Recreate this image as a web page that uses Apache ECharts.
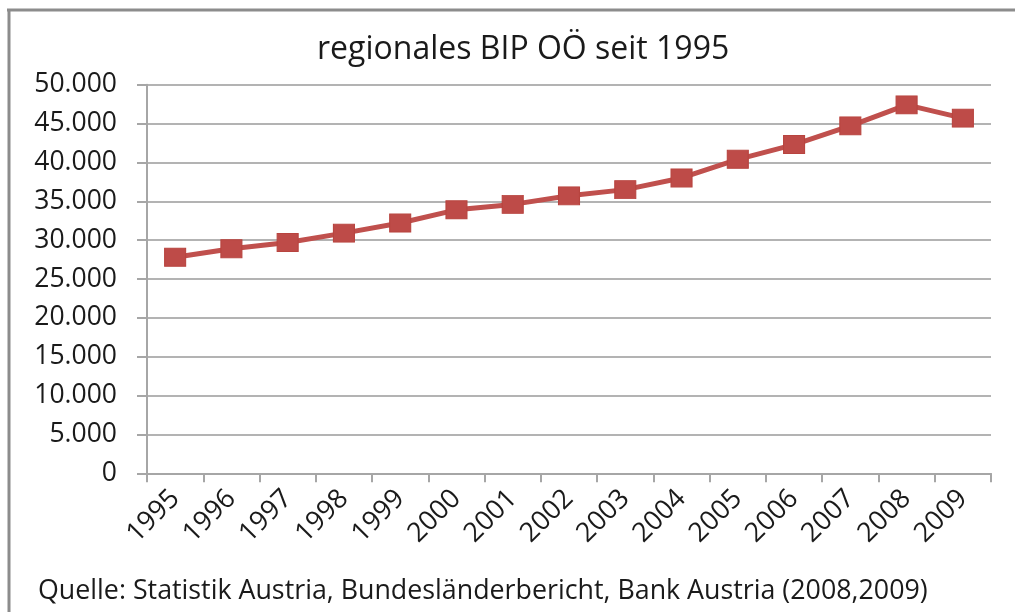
<!DOCTYPE html>
<html>
<head>
<meta charset="utf-8">
<script src="https://cdn.jsdelivr.net/npm/echarts@6/dist/echarts.min.js"></script>
<style>
html,body{margin:0;padding:0;background:#fff;}
#chart{width:1015px;height:612px;}
</style>
</head>
<body>
<div id="chart"></div>
<script>
const years = ['1995','1996','1997','1998','1999','2000','2001','2002','2003','2004','2005','2006','2007','2008','2009'];
const bipValues = [27800, 28900, 29700, 30900, 32200, 33900, 34600, 35700, 36500, 38000, 40400, 42300, 44700, 47400, 45700];
const yTicks = { min: 0, max: 50000, interval: 5000 };
const titleText = 'regionales BIP OÖ seit 1995';
const sourceText = 'Quelle: Statistik Austria, Bundesländerbericht, Bank Austria (2008,2009)';

const FONT = 'Open Sans';
const chart = echarts.init(document.getElementById('chart'), null, {renderer: 'canvas'});
chart.setOption({
  animation: false,
  backgroundColor: '#ffffff',
  title: [
    { text: titleText, left: 312, top: 29,
      textStyle: { fontFamily: FONT, fontSize: 32, fontWeight: 'normal', color: '#1a1a1a' } },
    { text: sourceText, left: 33, top: 573,
      textStyle: { fontFamily: FONT, fontSize: 26.8, fontWeight: 'normal', color: '#1a1a1a' } }
  ],
  grid: { left: 147, right: 24, top: 84.7, bottom: 138.7, containLabel: false, outerBoundsMode: 'none' },
  xAxis: {
    type: 'category',
    data: years,
    boundaryGap: true,
    axisLine: { show: true, lineStyle: { color: '#a6a6a6', width: 2 } },
    axisTick: { show: true, length: 9, lineStyle: { color: '#a6a6a6', width: 2 } },
    axisLabel: { rotate: 45, margin: 21, fontFamily: FONT, fontSize: 27, color: '#1a1a1a', interval: 0 },
    splitLine: { show: false }
  },
  yAxis: {
    type: 'value',
    min: yTicks.min, max: yTicks.max, interval: yTicks.interval,
    axisLine: { show: true, lineStyle: { color: '#a6a6a6', width: 2 } },
    axisTick: { show: true, length: 10, lineStyle: { color: '#a6a6a6', width: 2 } },
    axisLabel: {
      margin: 30, fontFamily: FONT, fontSize: 26.5, color: '#1a1a1a',
      formatter: v => v === 0 ? '0' : String(v).replace(/\B(?=(\d{3})+(?!\d))/g, '.')
    },
    splitLine: { show: true, lineStyle: { color: '#b3b3b3', width: 2 } }
  },
  series: [{
    type: 'line',
    data: bipValues,
    symbol: 'rect',
    symbolSize: [21, 18],
    showAllSymbol: true,
    lineStyle: { color: '#C0504D', width: 5 },
    itemStyle: { color: '#BE4B48', borderColor: '#B8443F', borderWidth: 1 },
    z: 5
  }],
  graphic: [
    { type: 'line', shape: { x1: 7, y1: 10, x2: 1015, y2: 10 }, style: { stroke: '#8c8c8c', lineWidth: 3 } },
    { type: 'line', shape: { x1: 9, y1: 10, x2: 9, y2: 612 }, style: { stroke: '#8c8c8c', lineWidth: 3 } }
  ]
});
</script>
</body>
</html>
